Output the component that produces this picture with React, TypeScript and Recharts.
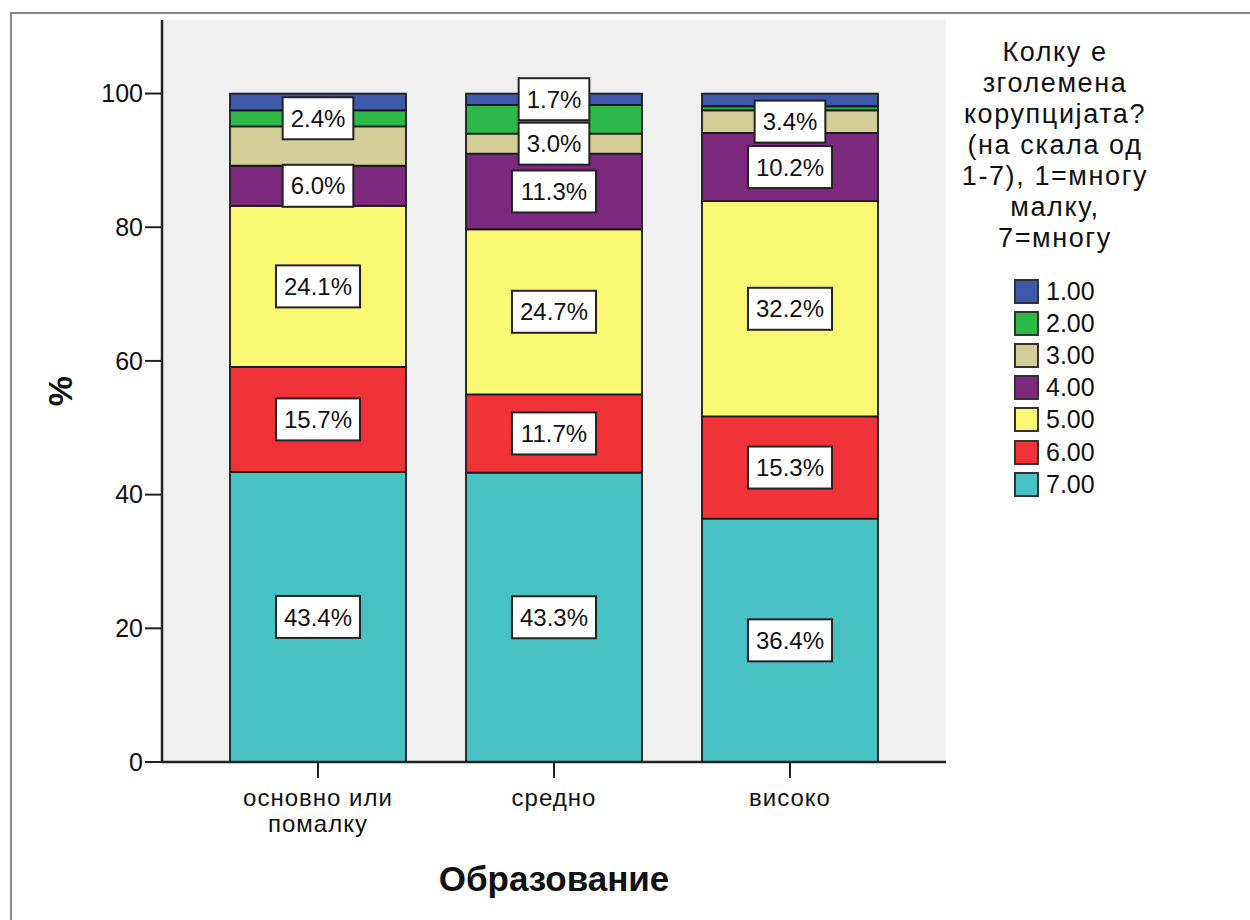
import { BarChart, Bar, XAxis, YAxis, LabelList } from 'recharts';

const FONT = '"Liberation Sans", Arial, sans-serif';

const categories = ['основно или\nпомалку', 'средно', 'високо'];
const seriesNames = ['1.00', '2.00', '3.00', '4.00', '5.00', '6.00', '7.00'];
const seriesColors = ['#3e58ac', '#2eb848', '#d3ce97', '#7c287d', '#fbf873', '#ef3338', '#48c2c5'];

// percentages per category, one array per answer (1 = top of stack, 7 = bottom)
const s1 = [2.5, 1.7, 1.9];
const s2 = [2.4, 4.3, 0.6];
const s3 = [5.9, 3.0, 3.4];
const s4 = [6.0, 11.3, 10.2];
const s5 = [24.1, 24.7, 32.2];
const s6 = [15.7, 11.7, 15.3];
const s7 = [43.4, 43.3, 36.4];

// which segments carry a value label in the original
const show1 = [false, true, false];
const show2 = [true, false, false];
const show3 = [false, true, true];
const show4 = [true, true, true];
const show5 = [true, true, true];
const show6 = [true, true, true];
const show7 = [true, true, true];

const yTicks = [0, 20, 40, 60, 80, 100];
const legendTitle = ['Колку е', 'зголемена', 'корупцијата?', '(на скала од', '1-7), 1=многу', 'малку,', '7=многу'];

const seriesValues = [s1, s2, s3, s4, s5, s6, s7];
const seriesShow = [show1, show2, show3, show4, show5, show6, show7];

const data = categories.map((edu, i) => {
  const row: Record<string, string | number> = { edu };
  seriesValues.forEach((vals, k) => {
    row['v' + (k + 1)] = vals[i];
  });
  return row;
});

// bottom of the stack first
const stackOrder = [6, 5, 4, 3, 2, 1, 0];

function textWidth(s: string, size: number) {
  let w = 0;
  for (const c of s) {
    if (c === '.') w += 0.278;
    else if (c === '%') w += 0.889;
    else w += 0.556;
  }
  return w * size;
}

function makeLabel(show: boolean[]) {
  return (props: any) => {
    const { index, value } = props;
    if (!show[index]) return null;
    const vb = props.viewBox || props;
    const cx = vb.x + vb.width / 2;
    const cy = vb.y + vb.height / 2;
    const txt = Number(value).toFixed(1) + '%';
    const w = textWidth(txt, 24) + 16;
    const h = 42;
    return (
      <g>
        <rect x={cx - w / 2} y={cy - h / 2} width={w} height={h} fill="#fff" stroke="#222" strokeWidth={2} />
        <text x={cx} y={cy} dy="0.36em" textAnchor="middle" fontSize={24} fontFamily={FONT} fill="#111">
          {txt}
        </text>
      </g>
    );
  };
}

function CatTick(props: any) {
  const { x, y, payload } = props;
  const lines = String(payload.value).split('\n');
  return (
    <text x={x} y={y} textAnchor="middle" fontSize={24} letterSpacing={1} fontFamily={FONT} fill="#111">
      {lines.map((l, i) => (
        <tspan key={i} x={x} dy={i === 0 ? 26 : 26}>
          {l}
        </tspan>
      ))}
    </text>
  );
}

function YTitle(props: any) {
  const vb = props.viewBox;
  const x = 60;
  const y = vb.y + vb.height / 2;
  return (
    <text x={x} y={y} transform={`rotate(-90 ${x} ${y})`} textAnchor="middle" dy="0.36em" fontSize={34} fontWeight="bold" fontFamily={FONT} fill="#111">
      %
    </text>
  );
}

function XTitle(props: any) {
  const vb = props.viewBox;
  return (
    <text x={vb.x + vb.width / 2} y={878} textAnchor="middle" dy="0.36em" fontSize={35} fontWeight="bold" fontFamily={FONT} fill="#111">
      Образование
    </text>
  );
}

export default function App() {
  return (
    <div style={{ position: 'absolute', left: 0, top: 0, width: 1250, height: 920, background: '#fff', fontFamily: FONT }}>
      <div style={{ position: 'absolute', left: 10, top: 12, right: 0, bottom: -10, borderLeft: '2px solid #8a8a8a', borderTop: '2px solid #8a8a8a' }} />
      <BarChart
        width={1250}
        height={920}
        data={data}
        margin={{ top: 20, right: 304, bottom: 0, left: 0 }}
        barSize={176}
        style={{ position: 'absolute', left: 0, top: 0 }}
      >
        <rect x={162} y={20} width={784} height={742} fill="#f0f0f0" />
        <XAxis
          dataKey="edu"
          padding={{ left: 38, right: 38 }}
          height={158}
          tickSize={16}
          tickMargin={2}
          tick={<CatTick />}
          stroke="#222"
          axisLine={{ stroke: '#222', strokeWidth: 2.5 }}
          tickLine={{ stroke: '#222', strokeWidth: 2 }}
          label={<XTitle />}
        />
        <XAxis
          xAxisId="lab"
          dataKey="edu"
          orientation="top"
          padding={{ left: 38, right: 38 }}
          height={0}
          tick={false}
          tickLine={false}
          axisLine={{ stroke: '#222', strokeWidth: 2.5 }}
        />
        <YAxis
          width={162}
          domain={[0, 111]}
          ticks={yTicks}
          allowDataOverflow
          tickSize={17}
          tickMargin={2}
          tick={{ fontSize: 25, fill: '#111', fontFamily: FONT }}
          axisLine={{ stroke: '#222', strokeWidth: 2.5 }}
          tickLine={{ stroke: '#222', strokeWidth: 2 }}
          label={<YTitle />}
        />
        <YAxis
          yAxisId="r"
          orientation="right"
          width={0}
          domain={[0, 111]}
          tick={false}
          tickLine={false}
          axisLine={{ stroke: '#222', strokeWidth: 2.5 }}
        />
        {stackOrder.map((k) => (
          <Bar
            key={'bar' + k}
            dataKey={'v' + (k + 1)}
            name={seriesNames[k]}
            stackId="a"
            fill={seriesColors[k]}
            stroke="#1a1a1a"
            strokeWidth={1.8}
            isAnimationActive={false}
          />
        ))}
        {stackOrder.map((k) => (
          <Bar
            key={'lab' + k}
            xAxisId="lab"
            dataKey={'v' + (k + 1)}
            stackId="lab"
            fill="none"
            stroke="none"
            isAnimationActive={false}
            legendType="none"
          >
            <LabelList dataKey={'v' + (k + 1)} content={makeLabel(seriesShow[k])} />
          </Bar>
        ))}
      </BarChart>
      <div style={{ position: 'absolute', left: 945, top: 37, width: 220, textAlign: 'center', fontSize: 27, letterSpacing: 1.6, lineHeight: '31px', color: '#111' }}>
        {legendTitle.map((l, i) => (
          <div key={i}>{l}</div>
        ))}
      </div>
      {seriesNames.map((n, i) => (
        <div key={n} style={{ position: 'absolute', left: 1014, top: 276 + i * 32.2, height: 30, display: 'flex', alignItems: 'center', fontSize: 25, color: '#111' }}>
          <div style={{ width: 21, height: 21, background: seriesColors[i], border: '2px solid #333', marginRight: 7 }} />
          <span>{n}</span>
        </div>
      ))}
    </div>
  );
}
